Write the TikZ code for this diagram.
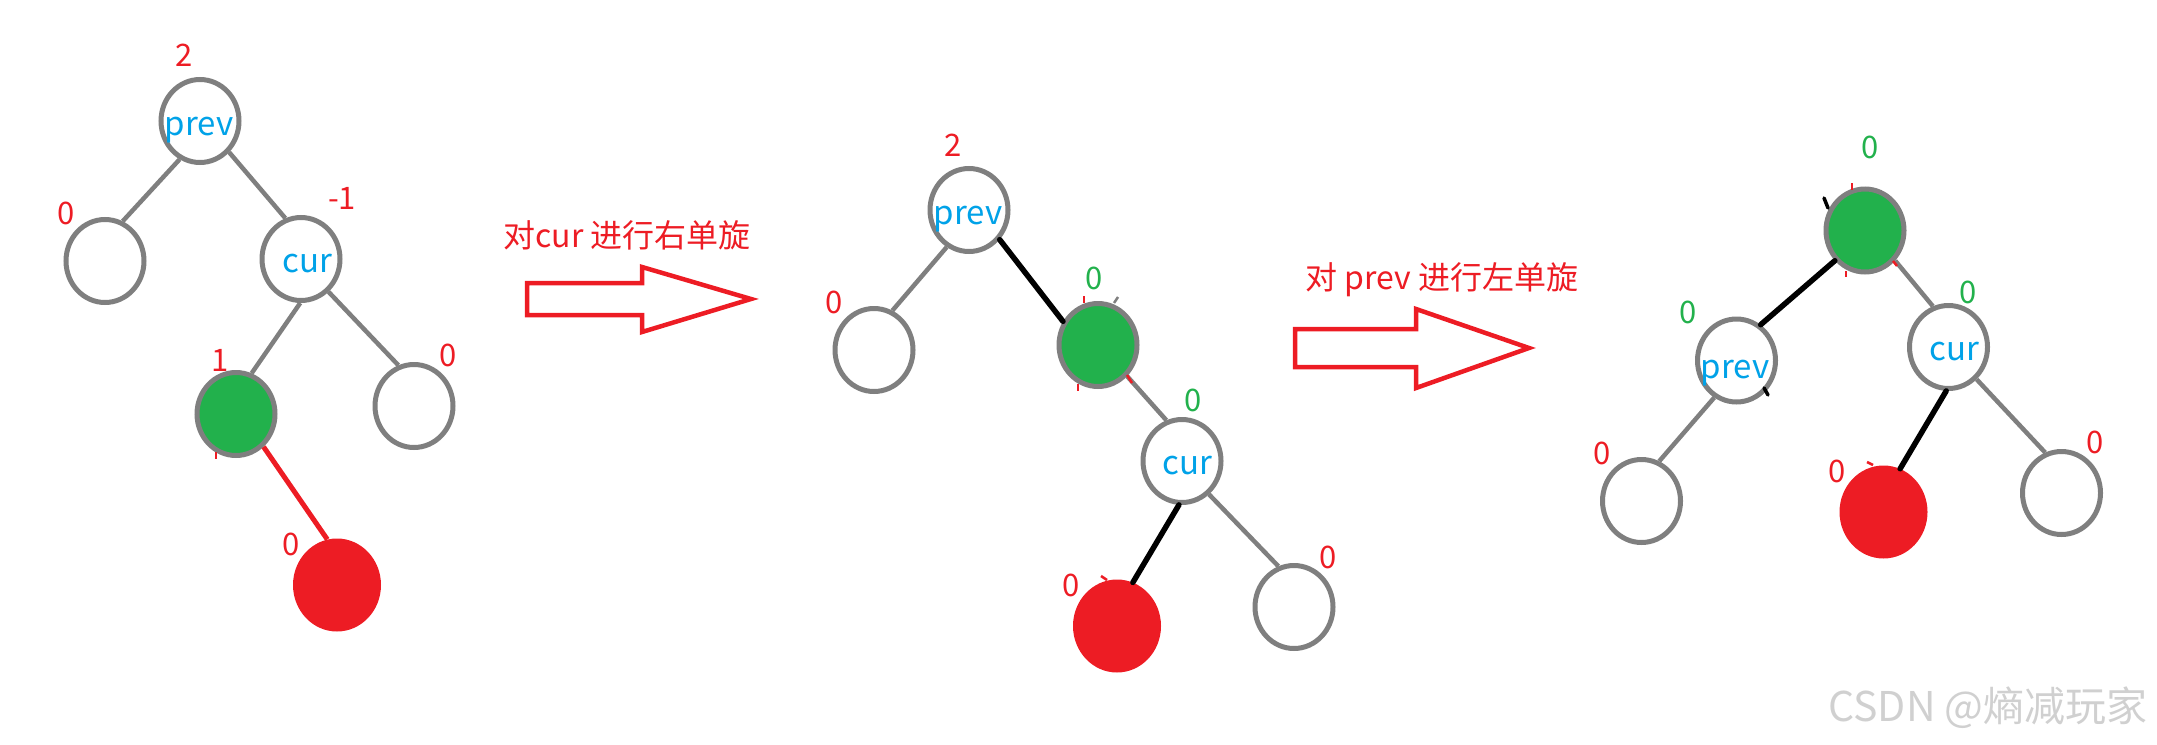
\documentclass[tikz,border=0pt]{standalone}
\usepackage{fontspec}
\setmainfont{Noto Sans CJK SC}
\usetikzlibrary{shapes.geometric}
\definecolor{pgray}{RGB}{127,127,127}
\definecolor{pblue}{RGB}{0,162,232}
\definecolor{pred}{RGB}{237,28,36}
\definecolor{pgreen}{RGB}{34,177,76}
\definecolor{wmark}{RGB}{208,208,208}
\begin{document}
\begin{tikzpicture}[x=1pt,y=-1pt,
  wnode/.style={ellipse, draw=pgray, line width=5pt, fill=white, minimum width=78pt, minimum height=83pt, inner sep=0pt},
  gnode/.style={ellipse, draw=pgray, line width=5pt, fill=pgreen, minimum width=78pt, minimum height=83pt, inner sep=0pt},
  rnode/.style={ellipse, fill=pred, minimum width=88pt, minimum height=93pt, inner sep=0pt},
  gline/.style={draw=pgray, line width=4.5pt},
  bline/.style={draw=black, line width=5.5pt, line cap=round},
  rline/.style={draw=pred, line width=5pt},
  rtick/.style={draw=pred, line width=2.5pt},
  ktick/.style={draw=black, line width=3.5pt, line cap=round},
  gtick/.style={draw=pgray, line width=2.5pt},
  rlab/.style={font=\fontsize{31pt}{36pt}\selectfont, text=pred, inner sep=0pt},
  glab/.style={rlab, text=pgreen},
  vname/.style={font=\fontsize{33pt}{38pt}\selectfont, text=pblue, inner sep=0pt},
  optext/.style={font=\fontsize{32pt}{38pt}\selectfont, text=pred, inner sep=0pt},
  barrow/.style={draw=pred, line width=4.5pt, line join=miter},
  wtext/.style={font=\fontsize{41pt}{46pt}\selectfont, text=wmark, inner sep=0pt}
]
\useasboundingbox (0,0) rectangle (2157,744);

% ---------- labels (behind nodes) ----------
% tree 1
\node[rlab] (t1a) at (184,55) {2};
\node[rlab] (t1b) at (66,213) {0};
\node[rlab] (t1c) at (342,198) {-1};
\node[rlab] (t1d) at (220,360) {1};
\node[rlab] (t1e) at (448,355) {0};
\node[rlab] (t1f) at (291,544) {0};
% tree 2
\node[rlab] (t2a) at (953,145) {2};
\node[rlab] (t2b) at (834,302) {0};
\node[glab] (t2c) at (1094,278) {0};
\node[glab] (t2d) at (1193,400) {0};
\node[rlab] (t2e) at (1071,585) {0};
\node[rlab] (t2f) at (1328,557) {0};
% tree 3
\node[glab] (t3a) at (1870,147) {0};
\node[glab] (t3b) at (1688,312) {0};
\node[glab] (t3c) at (1968,292) {0};
\node[rlab] (t3d) at (1602,453) {0};
\node[rlab] (t3e) at (1837,471) {0};
\node[rlab] (t3f) at (2095,442) {0};

% ---------- tree 1 ----------
\node[wnode] (p1) at (200,121) {};
\node[wnode] (l1) at (105,261) {};
\node[wnode] (c1) at (301,259) {};
\node[gnode] (g1) at (236,414) {};
\node[wnode] (n1) at (414,406) {};
\node[rnode] (r1) at (337,585) {};
\draw[gline] (p1.-118) -- (l1.66);
\draw[gline] (p1.-47) -- (c1.111);
\draw[gline] (c1.-91) -- (g1.69);
\draw[gline] (c1.-50) -- (n1.111);
\draw[rline] (g1.-50) -- (r1.102);
\draw[rtick] (216,452) -- (216,459);
\node[vname] (p1t) at (199,130) {prev};
\node[vname] (c1t) at (307,264) {cur};

% ---------- arrow 1 ----------
\node[optext] (op1) at (627,235) {对cur 进行右单旋};
\draw[barrow] (527,283) -- (642,283) -- (642,267) -- (751,299) -- (642,332) -- (642,315) -- (527,315) -- cycle;

% ---------- tree 2 ----------
\node[wnode] (p2) at (969,210) {};
\node[wnode] (l2) at (874,350) {};
\node[gnode] (g2) at (1098,345) {};
\node[wnode] (c2) at (1182,461) {};
\node[rnode] (r2) at (1117,626) {};
\node[wnode] (n2) at (1294,607) {};
\draw[gline] (p2.-121) -- (l2.65);
\draw[bline] (p2.-44) -- (g2.146);
\draw[gline] (g2.-47) -- (c2.111);
\draw[bline] (c2.-94) -- (r2.70);
\draw[gline] (c2.-51) -- (n2.111);
\draw[rtick] (1084,296) -- (1084,303);
\draw[gtick] (1114,303) -- (1118,297);
\draw[rtick] (1078,384) -- (1078,391);
\draw[rtick] (1127,375) -- (1132,383);
\draw[rtick] (1101,576) -- (1107,580);
\node[vname] (p2t) at (968,219) {prev};
\node[vname] (c2t) at (1187,466) {cur};

% ---------- arrow 2 ----------
\node[optext] (op2) at (1442,280) {对 prev 进行左单旋};
\draw[barrow] (1295,329) -- (1416,329) -- (1416,309) -- (1529,348) -- (1416,388) -- (1416,367) -- (1295,367) -- cycle;

% ---------- tree 3 ----------
\node[gnode] (g3) at (1865,230.5) {};
\node[wnode] (p3) at (1736.5,360.5) {};
\node[wnode] (c3) at (1948.5,347) {};
\node[wnode] (l3) at (1641.5,501) {};
\node[rnode] (r3) at (1883.5,512) {};
\node[wnode] (n3) at (2061.5,493) {};
\draw[bline] (g3.-135.5) -- (p3.56);
\draw[gline] (g3.-45.5) -- (c3.111);
\draw[gline] (p3.-121) -- (l3.66);
\draw[bline] (c3.-93) -- (r3.69);
\draw[gline] (c3.-49) -- (n3.112);
\draw[ktick] (1824,198) -- (1828,208);
\draw[ktick] (1764,388) -- (1768,395);
\draw[rtick] (1852,183) -- (1852,190);
\draw[rtick] (1846,271) -- (1846,277);
\draw[rtick] (1893,261) -- (1897,266);
\draw[rtick] (1867,462) -- (1873,465);
\node[vname] (p3t) at (1735,373) {prev};
\node[vname] (c3t) at (1954,352) {cur};

% ---------- watermark ----------
\node[wtext] (wm) at (1988,708) {CSDN @熵减玩家};
\end{tikzpicture}
\end{document}
